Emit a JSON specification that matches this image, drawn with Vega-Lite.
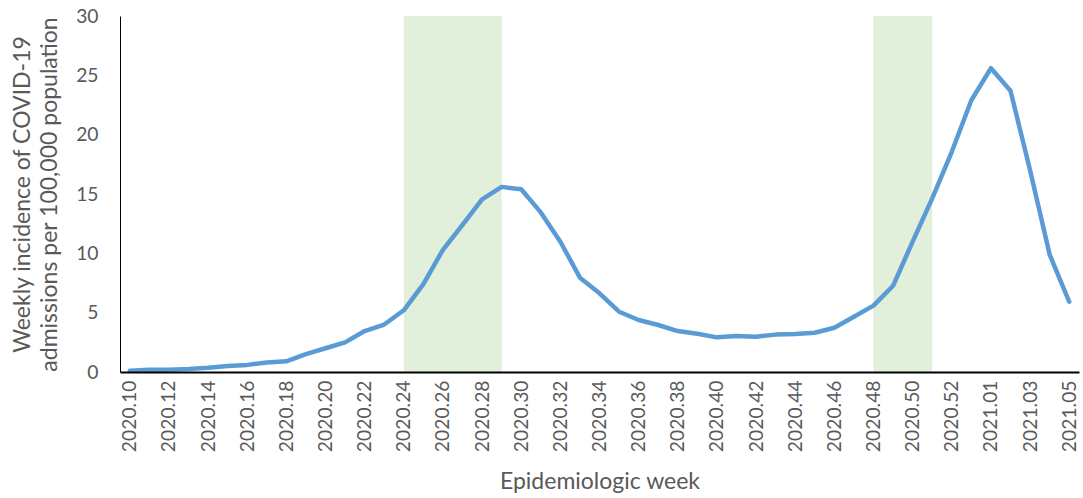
{
  "$schema": "https://vega.github.io/schema/vega-lite/v6.json",
  "width": 959,
  "height": 356,
  "autosize": "none",
  "padding": {"left": 120, "top": 16, "right": 4, "bottom": 126},
  "background": "white",
  "config": {
    "view": {"stroke": null},
    "font": "Lato",
    "axis": {"labelFont": "Lato", "titleFont": "Lato", "labelColor": "#595959", "titleColor": "#595959", "titleFontWeight": "normal", "grid": false, "ticks": false}
  },
  "datasets": {
    "series": [
      {"week": "2020.10", "value": 0.1},
      {"week": "2020.11", "value": 0.2},
      {"week": "2020.12", "value": 0.2},
      {"week": "2020.13", "value": 0.25},
      {"week": "2020.14", "value": 0.35},
      {"week": "2020.15", "value": 0.5},
      {"week": "2020.16", "value": 0.6},
      {"week": "2020.17", "value": 0.8},
      {"week": "2020.18", "value": 0.9},
      {"week": "2020.19", "value": 1.5},
      {"week": "2020.20", "value": 2.0},
      {"week": "2020.21", "value": 2.5},
      {"week": "2020.22", "value": 3.45},
      {"week": "2020.23", "value": 4.0},
      {"week": "2020.24", "value": 5.2},
      {"week": "2020.25", "value": 7.4},
      {"week": "2020.26", "value": 10.3},
      {"week": "2020.27", "value": 12.4},
      {"week": "2020.28", "value": 14.55},
      {"week": "2020.29", "value": 15.6},
      {"week": "2020.30", "value": 15.4},
      {"week": "2020.31", "value": 13.45},
      {"week": "2020.32", "value": 10.98},
      {"week": "2020.33", "value": 7.95},
      {"week": "2020.34", "value": 6.63},
      {"week": "2020.35", "value": 5.08},
      {"week": "2020.36", "value": 4.38},
      {"week": "2020.37", "value": 3.96},
      {"week": "2020.38", "value": 3.45},
      {"week": "2020.39", "value": 3.23},
      {"week": "2020.40", "value": 2.92},
      {"week": "2020.41", "value": 3.03},
      {"week": "2020.42", "value": 2.98},
      {"week": "2020.43", "value": 3.15},
      {"week": "2020.44", "value": 3.2},
      {"week": "2020.45", "value": 3.31},
      {"week": "2020.46", "value": 3.73},
      {"week": "2020.47", "value": 4.66},
      {"week": "2020.48", "value": 5.59},
      {"week": "2020.49", "value": 7.27},
      {"week": "2020.50", "value": 10.98},
      {"week": "2020.51", "value": 14.63},
      {"week": "2020.52", "value": 18.56},
      {"week": "2020.53", "value": 22.9},
      {"week": "2021.01", "value": 25.6},
      {"week": "2021.02", "value": 23.7},
      {"week": "2021.03", "value": 17.0},
      {"week": "2021.04", "value": 9.9},
      {"week": "2021.05", "value": 5.92}
    ],
    "shades": [
      {"start": "2020.24", "end": "2020.29"},
      {"start": "2020.48", "end": "2020.51"}
    ]
  },
  "layer": [
    {
      "data": {"name": "shades"},
      "mark": {"type": "rect", "color": "#E2EFDA"},
      "encoding": {
        "x": {"field": "start", "type": "ordinal"},
        "x2": {"field": "end"},
        "y": {"datum": 30},
        "y2": {"datum": 0}
      }
    },
    {
      "data": {"name": "series"},
      "mark": {"type": "line", "color": "#5B9BD5", "strokeWidth": 4.5, "strokeCap": "round", "strokeJoin": "round"},
      "encoding": {
        "x": {
          "field": "week",
          "type": "ordinal",
          "scale": {"type": "point", "padding": 0.5},
          "axis": {
            "title": "Epidemiologic week",
            "titleFontSize": 23,
            "titlePadding": 19,
            "labelFontSize": 19.3,
            "labelAngle": -90,
            "labelAlign": "right",
            "labelBaseline": "middle",
            "labelPadding": 8,
            "domainColor": "#000000",
            "domainWidth": 2,
            "values": ["2020.10","2020.12","2020.14","2020.16","2020.18","2020.20","2020.22","2020.24","2020.26","2020.28","2020.30","2020.32","2020.34","2020.36","2020.38","2020.40","2020.42","2020.44","2020.46","2020.48","2020.50","2020.52","2021.01","2021.03","2021.05"]
          }
        },
        "y": {
          "field": "value",
          "type": "quantitative",
          "scale": {"domain": [0, 30], "nice": false},
          "axis": {
            "title": ["Weekly incidence of COVID-19", "admissions per 100,000 population"],
            "titleFontSize": 23,
            "titleLineHeight": 27,
            "titleX": -86,
            "titleBaseline": "bottom",
            "labelFontSize": 19.3,
            "labelPadding": 22,
            "values": [0, 5, 10, 15, 20, 25, 30],
            "domainColor": "#000000",
            "domainWidth": 1
          }
        }
      }
    }
  ]
}
